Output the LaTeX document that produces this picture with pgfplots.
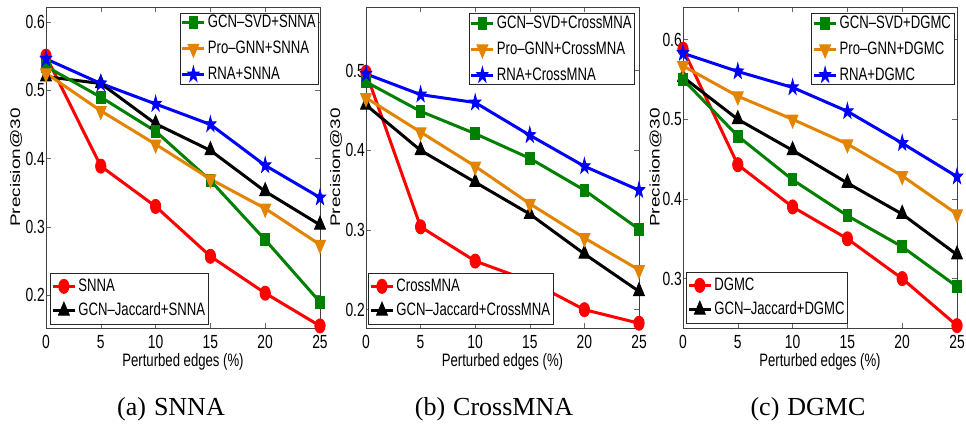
\documentclass[border=0pt]{standalone}
\usepackage{fontspec}
\setmainfont{Liberation Sans}
\newfontfamily\capfont{Liberation Serif}
\usepackage{graphicx}
\usepackage{pgfplots}
\pgfplotsset{compat=1.18}

\newcommand{\sq}[1]{\scalebox{0.73}[1]{#1}}

\pgfdeclareplotmark{fstar}{%
  \pgfpathmoveto{\pgfpointpolar{90}{\pgfplotmarksize}}%
  \pgfpathlineto{\pgfpointpolar{126}{0.4\pgfplotmarksize}}%
  \pgfpathlineto{\pgfpointpolar{162}{\pgfplotmarksize}}%
  \pgfpathlineto{\pgfpointpolar{198}{0.4\pgfplotmarksize}}%
  \pgfpathlineto{\pgfpointpolar{234}{\pgfplotmarksize}}%
  \pgfpathlineto{\pgfpointpolar{270}{0.4\pgfplotmarksize}}%
  \pgfpathlineto{\pgfpointpolar{306}{\pgfplotmarksize}}%
  \pgfpathlineto{\pgfpointpolar{342}{0.4\pgfplotmarksize}}%
  \pgfpathlineto{\pgfpointpolar{18}{\pgfplotmarksize}}%
  \pgfpathlineto{\pgfpointpolar{54}{0.4\pgfplotmarksize}}%
  \pgfpathclose
  \pgfusepathqfillstroke
}

\definecolor{mgreen}{RGB}{0,128,0}
\definecolor{morange}{RGB}{227,132,0}
\definecolor{mblue}{RGB}{0,0,255}
\definecolor{mred}{RGB}{255,0,0}

\pgfplotsset{
  sred/.style={color=mred, line width=3pt, mark=*, mark size=7pt, mark options={solid, line width=1pt, xscale=0.73}},
  sblack/.style={color=black, line width=3pt, mark=triangle*, mark size=8.5pt, mark options={solid, line width=1pt, xscale=0.73}},
  sgreen/.style={color=mgreen, line width=3pt, mark=square*, mark size=6pt, mark options={solid, line width=1pt, xscale=0.73}},
  sorange/.style={color=morange, line width=3pt, mark=triangle*, mark size=8.5pt, mark options={solid, line width=1pt, rotate=180, xscale=0.73}},
  sblue/.style={color=mblue, line width=3pt, mark=fstar, mark size=8pt, mark options={solid, line width=1pt, xscale=0.73}},
  legstyle/.style={
    legend cell align=left,
    legend style={draw=black!85, line width=0.6pt, fill=white,
      font=\fontsize{18}{21}\selectfont, inner xsep=1pt, inner ysep=0.5pt,
      nodes={inner ysep=0pt, text height=14pt, text depth=4pt},
      row sep=8pt, cells={anchor=west}},
    legend image code/.code={\draw[mark repeat=2,mark phase=2,##1] plot coordinates {(0pt,0pt) (11pt,0pt) (22pt,0pt)};},
  },
  panel/.style={
    scale only axis, height=321pt,
    xmin=0, xmax=25, xtick={0,5,10,15,20,25},
    clip=false,
    tick align=inside, major tick length=5pt,
    axis line style={draw=black!75, line width=0.6pt},
    every tick/.style={draw=black!60, line width=0.6pt},
    /pgf/number format/assume math mode=true,
    xticklabel={\sq{\pgfmathprintnumber{\tick}}},
    yticklabel={\sq{\pgfmathprintnumber{\tick}}},
    tick label style={font=\fontsize{19}{22}\selectfont},
    xticklabel style={anchor=center, yshift=-14pt},
    yticklabel style={anchor=east, inner sep=0pt, xshift=-1pt},
    xlabel={\sq{Perturbed edges (\%)}},
    ylabel={\scalebox{1}[0.73]{Precision@30}},
    every axis x label/.style={at={(axis description cs:0.5,-0.106)}, anchor=center, font=\fontsize{18}{21}\selectfont},
    legstyle,
  },
  hidden/.style={
    scale only axis, height=321pt, hide axis, xmin=0, xmax=25, legstyle,
    legend style={inner ysep=4pt, row sep=6.5pt},
  },
}

\begin{document}
\begin{tikzpicture}
\useasboundingbox (0,0) rectangle (966pt,423pt);

% ---------- (a) SNNA ----------
\begin{axis}[panel, at={(46pt,95pt)}, anchor=south west, width=274pt,
  ymin=0.152, ymax=0.622, ytick={0.2,0.3,0.4,0.5,0.6},
  every axis y label/.style={at={(axis description cs:-0.109,0.5)}, rotate=90, anchor=center, font=\fontsize{19}{22}\selectfont},
  legend style={at={(0.996,0.982)}, anchor=north east}]
\addplot[sred, forget plot] coordinates {(0,0.550)(5,0.389)(10,0.330)(15,0.257)(20,0.203)(25,0.155)};
\addplot[sblack, forget plot] coordinates {(0,0.520)(5,0.510)(10,0.451)(15,0.412)(20,0.352)(25,0.303)};
\addplot[sgreen] coordinates {(0,0.535)(5,0.490)(10,0.440)(15,0.368)(20,0.281)(25,0.190)};
\addlegendentry{\sq{GCN--SVD+SNNA}}
\addplot[sorange] coordinates {(0,0.525)(5,0.470)(10,0.421)(15,0.370)(20,0.327)(25,0.274)};
\addlegendentry{\sq{Pro--GNN+SNNA}}
\addplot[sblue] coordinates {(0,0.546)(5,0.510)(10,0.480)(15,0.450)(20,0.390)(25,0.343)};
\addlegendentry{\sq{RNA+SNNA}}
\end{axis}
\begin{axis}[hidden, at={(46pt,95pt)}, anchor=south west, width=274pt,
  ymin=0.152, ymax=0.622,
  legend style={at={(0.015,0.012)}, anchor=south west}]
\addlegendimage{sred}
\addlegendentry{\sq{SNNA}}
\addlegendimage{sblack}
\addlegendentry{\sq{GCN--Jaccard+SNNA}}
\end{axis}

% ---------- (b) CrossMNA ----------
\begin{axis}[panel, at={(366pt,95pt)}, anchor=south west, width=273pt,
  ymin=0.177, ymax=0.580, ytick={0.2,0.3,0.4,0.5},
  every axis y label/.style={at={(axis description cs:-0.110,0.5)}, rotate=90, anchor=center, font=\fontsize{19}{22}\selectfont},
  legend style={at={(0.985,0.98)}, anchor=north east}]
\addplot[sred, forget plot] coordinates {(0,0.498)(5,0.304)(10,0.261)(15,0.236)(20,0.200)(25,0.183)};
\addplot[sblack, forget plot] coordinates {(0,0.457)(5,0.400)(10,0.360)(15,0.320)(20,0.270)(25,0.223)};
\addplot[sgreen] coordinates {(0,0.486)(5,0.449)(10,0.421)(15,0.390)(20,0.350)(25,0.301)};
\addlegendentry{\sq{GCN--SVD+CrossMNA}}
\addplot[sorange] coordinates {(0,0.466)(5,0.423)(10,0.380)(15,0.333)(20,0.290)(25,0.250)};
\addlegendentry{\sq{Pro--GNN+CrossMNA}}
\addplot[sblue] coordinates {(0,0.496)(5,0.470)(10,0.460)(15,0.419)(20,0.380)(25,0.350)};
\addlegendentry{\sq{RNA+CrossMNA}}
\end{axis}
\begin{axis}[hidden, at={(366pt,95pt)}, anchor=south west, width=273pt,
  ymin=0.177, ymax=0.580,
  legend style={at={(0.008,0.012)}, anchor=south west}]
\addlegendimage{sred}
\addlegendentry{\sq{CrossMNA}}
\addlegendimage{sblack}
\addlegendentry{\sq{GCN--Jaccard+CrossMNA}}
\end{axis}

% ---------- (c) DGMC ----------
\begin{axis}[panel, at={(683pt,95pt)}, anchor=south west, width=274pt,
  ymin=0.238, ymax=0.641, ytick={0.3,0.4,0.5,0.6},
  every axis y label/.style={at={(axis description cs:-0.100,0.5)}, rotate=90, anchor=center, font=\fontsize{19}{22}\selectfont},
  legend style={at={(0.99,0.98)}, anchor=north east}]
\addplot[sred, forget plot] coordinates {(0,0.588)(5,0.443)(10,0.390)(15,0.350)(20,0.300)(25,0.241)};
\addplot[sblack, forget plot] coordinates {(0,0.553)(5,0.500)(10,0.461)(15,0.420)(20,0.381)(25,0.330)};
\addplot[sgreen] coordinates {(0,0.550)(5,0.479)(10,0.424)(15,0.379)(20,0.340)(25,0.290)};
\addlegendentry{\sq{GCN--SVD+DGMC}}
\addplot[sorange] coordinates {(0,0.567)(5,0.529)(10,0.500)(15,0.469)(20,0.429)(25,0.381)};
\addlegendentry{\sq{Pro--GNN+DGMC}}
\addplot[sblue] coordinates {(0,0.583)(5,0.560)(10,0.540)(15,0.510)(20,0.470)(25,0.428)};
\addlegendentry{\sq{RNA+DGMC}}
\end{axis}
\begin{axis}[hidden, at={(683pt,95pt)}, anchor=south west, width=274pt,
  ymin=0.238, ymax=0.641,
  legend style={at={(0.011,0.015)}, anchor=south west}]
\addlegendimage{sred}
\addlegendentry{\sq{DGMC}}
\addlegendimage{sblack}
\addlegendentry{\sq{GCN--Jaccard+DGMC}}
\end{axis}

% ---------- captions ----------
\node[anchor=base] at (171pt,8pt) {\capfont\fontsize{26}{30}\selectfont (a)\hspace{8pt}SNNA};
\node[anchor=base] at (494pt,8pt) {\capfont\fontsize{26}{30}\selectfont (b)\hspace{8pt}CrossMNA};
\node[anchor=base] at (808pt,8pt) {\capfont\fontsize{26}{30}\selectfont (c)\hspace{8pt}DGMC};
\end{tikzpicture}
\end{document}
